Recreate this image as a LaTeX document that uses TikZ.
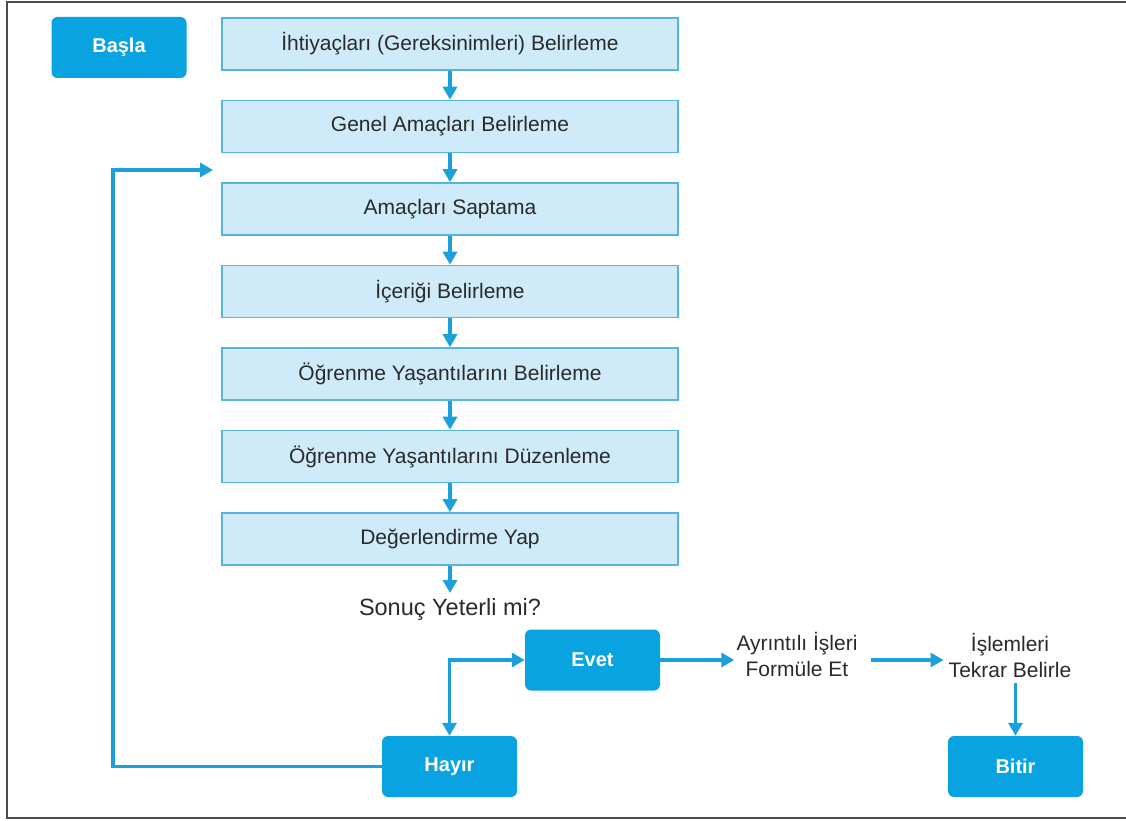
\documentclass[tikz,border=0pt]{standalone}
\usepackage{fontspec}
\setmainfont{Liberation Sans}
\usetikzlibrary{arrows.meta}
\definecolor{dark}{HTML}{0AA3E2}
\definecolor{light}{HTML}{CFEBFA}
\definecolor{lborder}{HTML}{55B5E0}
\definecolor{arr}{HTML}{1BA0DC}
\definecolor{txt}{HTML}{2A2A2A}
\begin{document}
\begin{tikzpicture}[x=1pt,y=-1pt,
  procbox/.style={draw=lborder, line width=1.6pt, fill=light, minimum width=456pt, minimum height=52pt, inner sep=0pt, font=\fontsize{21}{25}\selectfont, text=txt},
  termbox/.style={fill=dark, rounded corners=6pt, minimum width=135pt, minimum height=61pt, inner sep=0pt, text=white, font=\bfseries\fontsize{20}{24}\selectfont},
  lbl/.style={text=txt, font=\fontsize{21}{26}\selectfont, align=center, inner sep=0pt},
  tip/.tip={Triangle[length=13pt,width=14pt]},
  flow/.style={draw=arr, line width=3.3pt, -tip},
  flowtwo/.style={draw=arr, line width=3.3pt, tip-tip},
]
\useasboundingbox (0,0) rectangle (1126,821);
\draw[color=black!70, line width=2pt] (1126,2) -- (7,2) -- (7,818) -- (1126,818);

\node[termbox] (basla) at (119,47.5) {Başla};

\node[procbox] (b1) at (450,44) {İhtiyaçları (Gereksinimleri) Belirleme};
\node[procbox] (b2) at (450,126.5) {Genel Amaçları Belirleme};
\node[procbox] (b3) at (450,209) {Amaçları Saptama};
\node[procbox] (b4) at (450,291.5) {İçeriği Belirleme};
\node[procbox] (b5) at (450,374) {Öğrenme Yaşantılarını Belirleme};
\node[procbox] (b6) at (450,456.5) {Öğrenme Yaşantılarını Düzenleme};
\node[procbox] (b7) at (450,539) {Değerlendirme Yap};

\node[lbl, font=\fontsize{23.5}{28}\selectfont] (sonuc) at (450,609) {Sonuç Yeterli mi?};
\coordinate (q) at (450,593);

\node[termbox] (evet) at (592.5,660) {Evet};
\node[termbox] (hayir) at (449.5,766.5) {Hayır};
\node[termbox] (bitir) at (1015.5,766.5) {Bitir};

\node[lbl] (ayr) at (797,654) {Ayrıntılı İşleri\\Formüle Et};
\node[lbl] (islem) at (1010,655) {İşlemleri\\Tekrar Belirle};

\coordinate (lc) at (113,170);
\coordinate (loopend) at (213,170);

\draw[flow] (b1) -- (b2);
\draw[flow] (b2) -- (b3);
\draw[flow] (b3) -- (b4);
\draw[flow] (b4) -- (b5);
\draw[flow] (b5) -- (b6);
\draw[flow] (b6) -- (b7);
\draw[flow] (b7) -- (q);

\draw[flow, shorten >=2pt] (evet.east) -- (evet.east -| ayr.west);
\draw[flow, shorten <=13pt, shorten >=5pt] (evet.east -| ayr.east) -- (evet.east -| islem.west);
\draw[flow, shorten <=6pt] (islem.south -| bitir.north) -- (bitir.north);

\draw[flowtwo] (hayir.north) -- (hayir.north |- evet.west) -- (evet.west);
\draw[flow, line width=3.6pt] (hayir.west) -| (lc) -- (loopend);
\end{tikzpicture}
\end{document}
